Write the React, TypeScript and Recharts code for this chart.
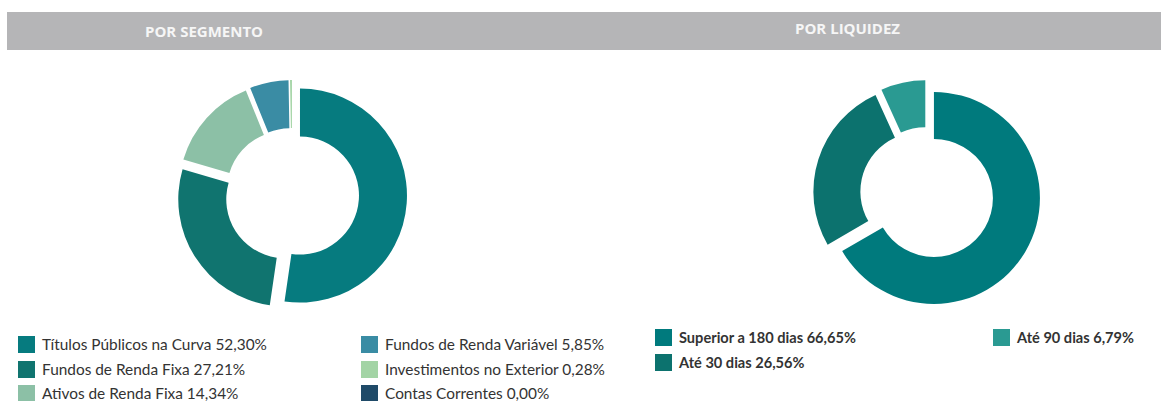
import React from 'react';
import { PieChart, Pie, Cell, Legend, Sector } from 'recharts';

// Por segmento
const segmentNames = [
  'Títulos Públicos na Curva',
  'Fundos de Renda Fixa',
  'Ativos de Renda Fixa',
  'Fundos de Renda Variável',
  'Investimentos no Exterior',
  'Contas Correntes',
];
const segmentValues = [52.3, 27.21, 14.34, 5.85, 0.28, 0.0];
const segmentLabels = ['52,30%', '27,21%', '14,34%', '5,85%', '0,28%', '0,00%'];
const segmentColors = ['#067b7f', '#10746f', '#8cc0a6', '#3a8ca4', '#a3d4a5', '#1f4a68'];

// Por liquidez
const liquidityNames = ['Superior a 180 dias', 'Até 30 dias', 'Até 90 dias'];
const liquidityValues = [66.65, 26.56, 6.79];
const liquidityLabels = ['66,65%', '26,56%', '6,79%'];
const liquidityColors = ['#007a7d', '#0c726e', '#2a9a92'];

const segmentData = segmentNames.map((name, i) => ({
  name,
  value: segmentValues[i],
  label: `${name} ${segmentLabels[i]}`,
  color: segmentColors[i],
}));
const liquidityData = liquidityNames.map((name, i) => ({
  name,
  value: liquidityValues[i],
  label: `${name} ${liquidityLabels[i]}`,
  color: liquidityColors[i],
}));

const RAD = Math.PI / 180;

// pushes every slice outward along its middle angle
const explodedSector = (props: any) => {
  const off = 8;
  const dx = off * Math.cos(-props.midAngle * RAD);
  const dy = off * Math.sin(-props.midAngle * RAD);
  return <Sector {...props} cx={props.cx + dx} cy={props.cy + dy} />;
};

// legend keeps the data order, filled column by column
const makeLegend = (items: any[], rows: number, colX: number[], bold: boolean) => () => (
  <div style={{ position: 'relative' }}>
    {items.map((it: any, i: number) => {
      const col = Math.floor(i / rows);
      const row = i % rows;
      return (
        <div
          key={it.name}
          style={{
            position: 'absolute',
            left: colX[col],
            top: row * 24.5,
            display: 'flex',
            alignItems: 'center',
            whiteSpace: 'nowrap',
          }}
        >
          <div style={{ width: 17, height: 17, background: it.color, marginRight: 7 }} />
          <span
            style={{
              fontFamily: 'Lato, sans-serif',
              fontSize: bold ? 14.6 : 15.4,
              fontWeight: bold ? 700 : 400,
              color: '#333',
              lineHeight: '17px',
            }}
          >
            {it.label}
          </span>
        </div>
      );
    })}
  </div>
);

export default function App() {
  return (
    <div style={{ position: 'absolute', left: 0, top: 0, width: 1161, height: 401, background: '#fff', overflow: 'hidden' }}>
      {/* gray header band */}
      <div style={{ position: 'absolute', left: 7, top: 12, width: 1154, height: 38, background: '#b5b5b7' }} />
      <div
        style={{
          position: 'absolute', left: 145, top: 21, fontFamily: '"Open Sans", sans-serif',
          fontWeight: 700, fontSize: 15, color: '#f6f6f6', lineHeight: '20px',
        }}
      >
        POR SEGMENTO
      </div>
      <div
        style={{
          position: 'absolute', left: 795, top: 18, fontFamily: '"Open Sans", sans-serif',
          fontWeight: 700, fontSize: 15, color: '#f6f6f6', lineHeight: '20px',
        }}
      >
        POR LIQUIDEZ
      </div>

      <div style={{ position: 'absolute', left: 0, top: 0 }}>
        <PieChart width={640} height={401} margin={{ top: 0, right: 0, bottom: 0, left: 0 }}>
          <Pie
            data={segmentData}
            dataKey="value"
            nameKey="name"
            cx={292}
            cy={195}
            innerRadius={59}
            outerRadius={107}
            startAngle={90}
            endAngle={-270}
            stroke="none"
            shape={explodedSector}
            isAnimationActive={false}
          >
            {segmentData.map((d) => (
              <Cell key={d.name} fill={d.color} />
            ))}
          </Pie>
          <Legend
            content={makeLegend(segmentData, 3, [18, 361], false)}
            wrapperStyle={{ position: 'absolute', left: 0, top: 336, width: 640, height: 65 }}
          />
        </PieChart>
      </div>

      <div style={{ position: 'absolute', left: 640, top: 0 }}>
        <PieChart width={521} height={401} margin={{ top: 0, right: 0, bottom: 0, left: 0 }}>
          <Pie
            data={liquidityData}
            dataKey="value"
            nameKey="name"
            cx={287}
            cy={194}
            innerRadius={59}
            outerRadius={106}
            startAngle={90}
            endAngle={-270}
            stroke="none"
            shape={explodedSector}
            isAnimationActive={false}
          >
            {liquidityData.map((d) => (
              <Cell key={d.name} fill={d.color} />
            ))}
          </Pie>
          <Legend
            content={makeLegend(liquidityData, 2, [15, 353], true)}
            wrapperStyle={{ position: 'absolute', left: 0, top: 329, width: 521, height: 60 }}
          />
        </PieChart>
      </div>
    </div>
  );
}
